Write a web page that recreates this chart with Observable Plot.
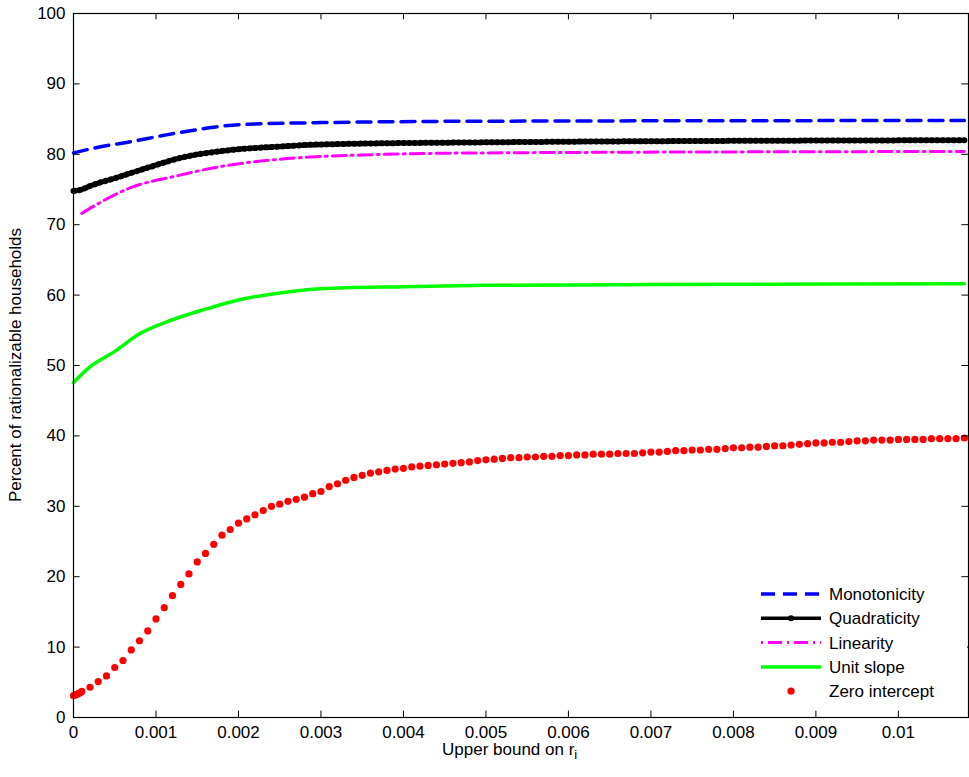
<!DOCTYPE html>
<html><head><meta charset="utf-8">
<script src="https://cdn.jsdelivr.net/npm/d3@7"></script>
<script src="https://cdn.jsdelivr.net/npm/@observablehq/plot@0.6"></script>
<style>
body{margin:0;background:#fff;font-family:"Liberation Sans",Arial,sans-serif;}
#wrap{position:relative;width:969px;height:777px;}
.lab{position:absolute;font-size:17px;color:#000;}
#legend{position:absolute;left:755px;top:583px;width:212px;height:122px;background:#fff;}
</style></head><body>
<div id="wrap">
<div id="chart"></div>
<div class="lab" style="left:442px;top:740px;">Upper bound on r<sub style="font-size:13px">i</sub></div>
<div class="lab" style="left:16px;top:365px;transform:translate(-50%,-50%) rotate(-90deg);transform-origin:center;white-space:nowrap;position:absolute;">Percent of rationalizable households</div>
<div id="legend"></div>
</div>
<script>
const monoX=[0,0.0003,0.0007,0.0011,0.0015,0.002,0.003,0.005,0.0108];
const monoY=[80.2,81.0,81.8,82.7,83.5,84.2,84.5,84.7,84.8];
const quadX=[0,0.0001,0.0002,0.0005,0.0009,0.0013,0.0019,0.0025,0.003,0.005,0.0108];
const quadY=[74.8,75.0,75.5,76.6,78.1,79.5,80.6,81.1,81.4,81.7,82.0];
const linX=[0.0001,0.0003,0.0007,0.0012,0.0018,0.0025,0.0035,0.005,0.0108];
const linY=[71.6,73.0,75.3,76.8,78.3,79.3,79.9,80.2,80.4];
const unitX=[0,0.0002,0.0005,0.0008,0.0012,0.0016,0.002,0.0025,0.003,0.004,0.005,0.007,0.0108];
const unitY=[47.6,49.8,52.0,54.5,56.5,58.0,59.3,60.3,60.9,61.2,61.4,61.5,61.6];
const redEarlyX=[0.00002,0.00004,0.00006,0.00008];
const redEarlyY=[3.2,3.3,3.4,3.5];
const redY=[3.1,3.7,4.3,5.1,5.9,7.1,8.1,9.6,10.9,12.3,14.0,15.6,17.3,18.9,20.4,22.1,23.3,24.6,25.9,26.7,27.6,28.2,28.8,29.4,30.0,30.3,30.7,31.0,31.3,31.8,32.1,32.8,33.2,33.7,
34.1,34.4,34.7,34.9,35.1,35.3,35.4,35.6,35.7,35.8,35.9,36.0,36.1,36.2,36.3,36.5,36.6,36.7,36.8,36.9,36.9,37.0,37.0,37.1,37.1,37.2,37.2,37.3,37.3,37.4,37.4,37.4,37.5,37.5,37.5,37.6,37.7,37.7,37.8,37.9,37.9,38.0,38.0,38.1,38.1,38.2,38.3,38.3,38.4,38.4,38.5,38.6,38.6,38.7,38.8,38.9,39.0,39.0,39.1,39.1,39.2,39.3,39.3,39.4,39.4,39.4,39.5,39.5,39.5,39.5,39.6,39.6,39.6,39.6,39.7];
const xTicks=[0,0.001,0.002,0.003,0.004,0.005,0.006,0.007,0.008,0.009,0.01];
const xTickLabels=["0","0.001","0.002","0.003","0.004","0.005","0.006","0.007","0.008","0.009","0.01"];
const yTicks=[0,10,20,30,40,50,60,70,80,90,100];

const zip=(xs,ys)=>xs.map((x,i)=>({x,y:ys[i]}));
const red=[...zip(redEarlyX,redEarlyY),...redY.map((y,i)=>({x:i*0.0001,y}))];
const quad=zip(quadX,quadY);
const XMAX=0.01085;
const curve="monotone-x";
const chart=Plot.plot({
  width:969,height:777,marginLeft:73,marginRight:1,marginTop:13,marginBottom:60,
  style:{fontFamily:"Liberation Sans, Arial, sans-serif",fontSize:"17px",background:"#fff",color:"#000"},
  x:{domain:[0,XMAX],ticks:xTicks,tickFormat:(d)=>xTickLabels[xTicks.indexOf(d)],label:null,tickSize:0,tickPadding:8},
  y:{domain:[0,100],ticks:yTicks,label:null,tickSize:0,tickPadding:8},
  marks:[
    Plot.line(zip(unitX,unitY),{x:"x",y:"y",stroke:"#00ff00",strokeWidth:3.5,curve}),
    Plot.line(zip(linX,linY),{x:"x",y:"y",stroke:"#ff00ff",strokeWidth:3,strokeDasharray:"14,5,2,5",curve}),
    Plot.line(quad,{x:"x",y:"y",stroke:"#000",strokeWidth:3.5,curve}),
    Plot.line(quad,{x:"x",y:"y",stroke:"#000",strokeWidth:6,strokeDasharray:"1.5,4",curve}),
    Plot.line(zip(monoX,monoY),{x:"x",y:"y",stroke:"#0000ff",strokeWidth:3.5,strokeDasharray:"14,8",curve}),
    Plot.dot(red,{x:"x",y:"y",r:3.6,fill:"#ff0000",stroke:"none"}),
    Plot.ruleX(xTicks,{x:d=>d,y1:0,y2:0.9,stroke:"#000",strokeWidth:1}),
    Plot.ruleX(xTicks,{x:d=>d,y1:100,y2:99.1,stroke:"#000",strokeWidth:1}),
    Plot.ruleY(yTicks,{y:d=>d,x1:0,x2:0.00008,stroke:"#000",strokeWidth:1}),
    Plot.ruleY(yTicks,{y:d=>d,x1:XMAX,x2:XMAX-0.00008,stroke:"#000",strokeWidth:1}),
    Plot.frame({stroke:"#000",strokeWidth:1.2})
  ]
});
document.getElementById("chart").append(chart);

const items=[
 {name:"Monotonicity",c:"#0000ff",w:3.5,dash:"14,8"},
 {name:"Quadraticity",c:"#000",w:3.5,dash:null,marker:true},
 {name:"Linearity",c:"#ff00ff",w:3,dash:"2,5,14,5"},
 {name:"Unit slope",c:"#00ff00",w:3.5,dash:null},
 {name:"Zero intercept",c:"#ff0000",dot:true}
];
let s='<svg width="212" height="122" style="font-family:Liberation Sans,Arial,sans-serif;font-size:17px">';
items.forEach((it,i)=>{const y=11+i*24.3;
 if(it.dot) s+=`<circle cx="36" cy="${y}" r="3.6" fill="${it.c}"/>`;
 else s+=`<line x1="6" x2="66" y1="${y}" y2="${y}" stroke="${it.c}" stroke-width="${it.w}" ${it.dash?`stroke-dasharray="${it.dash}"`:""}/>`;
 if(it.marker) s+=`<circle cx="36" cy="${y}" r="3" fill="#000"/>`;
 s+=`<text x="74" y="${y+6}" fill="#000">${it.name}</text>`;});
s+='</svg>';
document.getElementById("legend").innerHTML=s;
</script>
</body></html>
